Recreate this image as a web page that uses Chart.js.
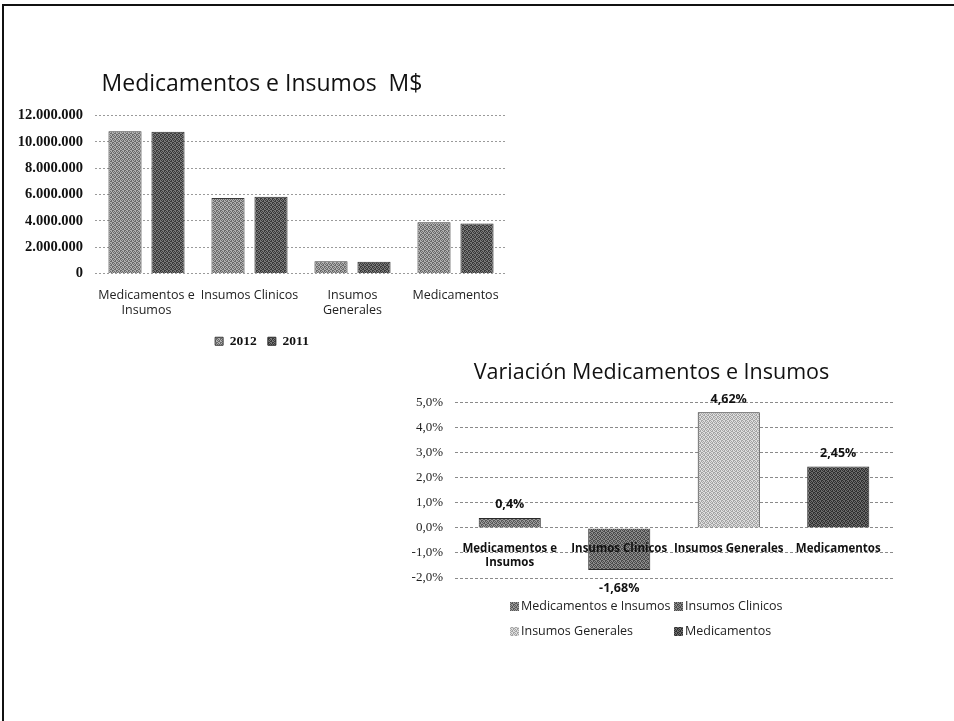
<!DOCTYPE html>
<html>
<head>
<meta charset="utf-8">
<script src="https://cdn.jsdelivr.net/npm/chart.js@4.4.1/dist/chart.umd.min.js"></script>
<style>
  html, body { margin: 0; padding: 0; background: #fff; }
  body { width: 954px; height: 721px; position: relative; overflow: hidden; }
  .frame { position: absolute; left: 2px; top: 4px; right: 0; bottom: 0;
           border-top: 2px solid #111; border-left: 2px solid #111; }
  #box1 { position: absolute; left: 17px; top: 60px; width: 499px; height: 300px; }
  #box2 { position: absolute; left: 410px; top: 350px; width: 500px; height: 300px; }
</style>
</head>
<body>
<div class="frame"></div>
<div id="box1"><canvas id="c1"></canvas></div>
<div id="box2"><canvas id="c2"></canvas></div>
<script>
// Amounts in M$ per category, 2012 vs 2011
const categories = [['Medicamentos e', 'Insumos'], 'Insumos Clinicos', ['Insumos', 'Generales'], 'Medicamentos'];
const values2012 = [10820000, 5740000, 940000, 3890000];
const values2011 = [10780000, 5840000, 900000, 3800000];
const amountTickLabels = ['0', '2.000.000', '4.000.000', '6.000.000', '8.000.000', '10.000.000', '12.000.000'];

// Year-over-year variation (%)
const varCategories = [['Medicamentos e', 'Insumos'], 'Insumos Clinicos', 'Insumos Generales', 'Medicamentos'];
const varLegendNames = ['Medicamentos e Insumos', 'Insumos Clinicos', 'Insumos Generales', 'Medicamentos'];
const variation = [0.4, -1.68, 4.62, 2.45];
const pctTickLabels = ['-2,0%', '-1,0%', '0,0%', '1,0%', '2,0%', '3,0%', '4,0%', '5,0%'];

// Small stippled fill, like a printed halftone
function stipple(light, dark) {
  const c = document.createElement('canvas');
  c.width = 4; c.height = 4;
  const g = c.getContext('2d');
  const mask = [1,0,1,0, 0,1,1,0, 1,0,0,1, 0,1,0,1];
  for (let i = 0; i < 16; i++) {
    g.fillStyle = mask[i] ? dark : light;
    g.fillRect(i % 4, Math.floor(i / 4), 1, 1);
  }
  return g.createPattern(c, 'repeat');
}

const fill2012 = stipple('#b0b0b0', '#6a6a6a');
const fill2011 = stipple('#7a7a7a', '#3a3a3a');
const varFills = [
  stipple('#9a9a9a', '#585858'),
  stipple('#8c8c8c', '#4a4a4a'),
  stipple('#dedede', '#a4a4a4'),
  stipple('#6c6c6c', '#303030')
];

// Chart 1: amounts
new Chart(document.getElementById('c1'), {
  type: 'bar',
  data: {
    labels: categories,
    datasets: [
      { label: '2012', data: values2012, backgroundColor: fill2012, borderColor: '#3a3a3a', borderWidth: 1,
        barPercentage: 0.77, categoryPercentage: 0.835 },
      { label: '2011', data: values2011, backgroundColor: fill2011, borderColor: '#2a2a2a', borderWidth: 1,
        barPercentage: 0.77, categoryPercentage: 0.835 }
    ]
  },
  options: {
    responsive: true, maintainAspectRatio: false, animation: false,
    layout: { padding: { left: 0, right: 9, bottom: 2 } },
    plugins: {
      title: { display: true, text: 'Medicamentos e Insumos  M$', color: '#111',
               font: { family: 'Open Sans', size: 23, weight: 'normal' }, padding: { top: 11, bottom: 17 } },
      legend: { position: 'bottom',
                labels: { boxWidth: 8, boxHeight: 8, padding: 11, color: '#111',
                          font: { family: 'Liberation Serif', size: 13.5, weight: 'bold' } } },
      tooltip: { enabled: false }
    },
    scales: {
      x: {
        grid: { display: false }, border: { display: false },
        ticks: { autoSkip: false, maxRotation: 0, padding: 6, color: '#222',
                 font: { family: 'Open Sans', size: 12.5 } },
        afterFit: s => { s.height = 50; }
      },
      y: {
        min: 0, max: 12000000,
        grid: { color: '#9a9a9a', drawTicks: false },
        border: { display: false, dash: [2, 2] },
        ticks: { stepSize: 2000000, padding: 12, color: '#111',
                 font: { family: 'Liberation Serif', size: 14.5, weight: 'bold' },
                 callback: (v, i) => amountTickLabels[i] },
        afterFit: s => { s.width = 78; }
      }
    }
  }
});

// Value labels above / below each variation bar
const barValueLabels = {
  id: 'barValueLabels',
  afterDatasetsDraw(chart) {
    const ctx = chart.ctx;
    const meta = chart.getDatasetMeta(0);
    const data = chart.data.datasets[0].data;
    ctx.save();
    ctx.font = 'bold 12.5px "Open Sans"';
    ctx.fillStyle = '#111';
    ctx.textAlign = 'center';
    ctx.textBaseline = 'middle';
    meta.data.forEach((bar, i) => {
      const v = data[i];
      const y = v >= 0 ? bar.y - 13 : bar.y + 18;
      ctx.fillText(String(v).replace('.', ',') + '%', bar.x, y);
    });
    ctx.restore();
  }
};

// Two-column legend under the variation chart
const gridLegend = {
  id: 'gridLegend',
  afterDraw(chart) {
    const ctx = chart.ctx, a = chart.chartArea;
    const cols = [a.left + 55, a.left + 219];
    const rows = [a.bottom + 28, a.bottom + 53];
    ctx.save();
    ctx.font = '12.5px "Open Sans"';
    ctx.textBaseline = 'middle';
    ctx.textAlign = 'left';
    varLegendNames.forEach((name, i) => {
      const x = cols[i % 2], y = rows[Math.floor(i / 2)];
      ctx.fillStyle = varFills[i];
      ctx.fillRect(x, y - 4, 9, 9);
      ctx.fillStyle = '#222';
      ctx.fillText(name, x + 11, y);
    });
    ctx.restore();
  }
};

// Chart 2: variation
new Chart(document.getElementById('c2'), {
  type: 'bar',
  data: {
    labels: varCategories,
    datasets: [
      { label: 'Variación', data: variation, backgroundColor: varFills, borderColor: '#2a2a2a', borderWidth: 1,
        barPercentage: 0.7, categoryPercentage: 0.81 }
    ]
  },
  options: {
    responsive: true, maintainAspectRatio: false, animation: false,
    layout: { padding: { left: 0, right: 17, bottom: 72 } },
    plugins: {
      title: { display: true, text: 'Variación Medicamentos e Insumos', color: '#111',
               font: { family: 'Open Sans', size: 21.5, weight: 'normal' }, padding: { top: 10, bottom: 17 } },
      legend: { display: false },
      tooltip: { enabled: false }
    },
    scales: {
      x: {
        position: { y: 0 },
        grid: { display: false }, border: { display: false },
        ticks: { z: 1, autoSkip: false, maxRotation: 0, padding: 6, color: '#111',
                 font: { family: 'Open Sans', size: 11.5, weight: 'bold' } }
      },
      y: {
        min: -2, max: 5,
        grid: { color: '#8a8a8a', drawTicks: false },
        border: { display: false, dash: [3, 2] },
        ticks: { stepSize: 1, padding: 12, color: '#222',
                 font: { family: 'Liberation Serif', size: 13 },
                 callback: (v, i) => pctTickLabels[i] },
        afterFit: s => { s.width = 45; }
      }
    }
  },
  plugins: [barValueLabels, gridLegend]
});
</script>
</body>
</html>
